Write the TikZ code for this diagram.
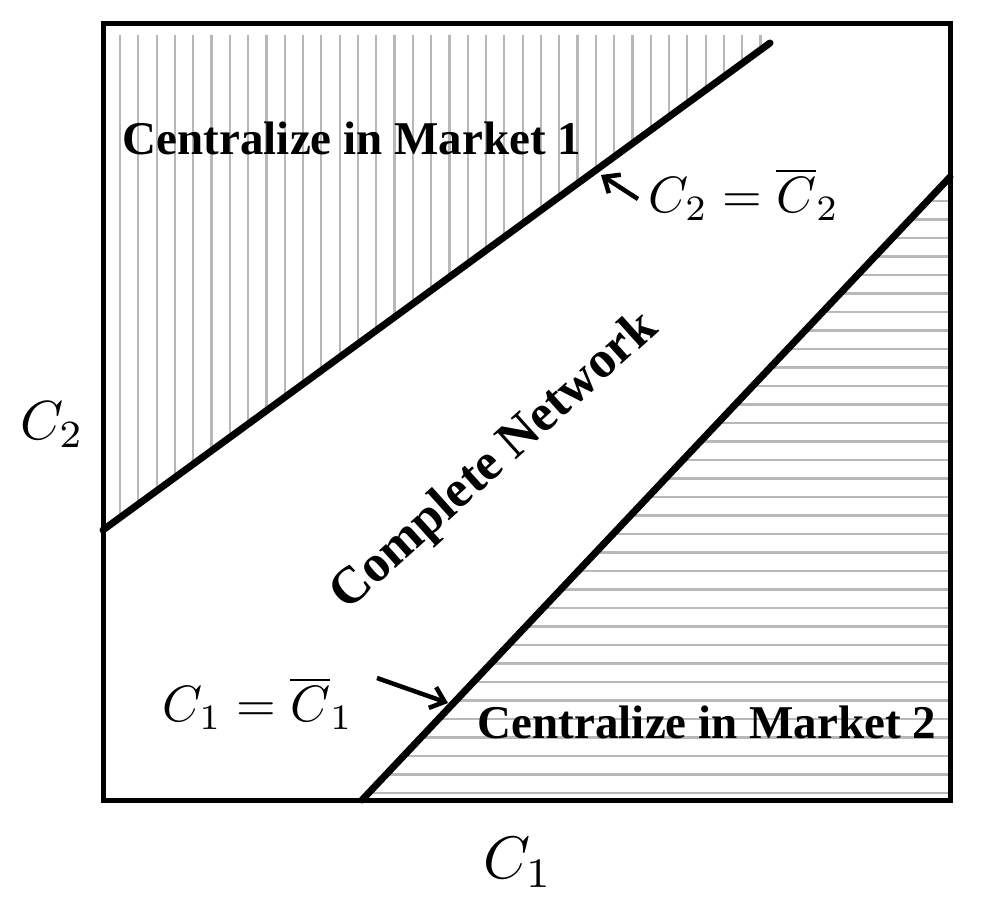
\documentclass[tikz,border=0pt]{standalone}
\usepackage{fontspec}
\setmainfont{Liberation Serif}
\usetikzlibrary{arrows.meta}
\begin{document}
\begin{tikzpicture}[x=1pt,y=-1pt,
  hatch/.style={draw=black!28,line width=2.2pt},
  frame/.style={draw=black,line width=5pt},
  bound/.style={draw=black,line width=7pt},
  ptr/.style={draw=black,line width=4.5pt,-{Straight Barb[length=13pt,width=22pt]}},
  regionlabel/.style={font=\fontsize{47}{54}\selectfont\bfseries,inner sep=0pt},
  midlabel/.style={font=\fontsize{52}{60}\selectfont\bfseries,inner sep=0pt},
  mathlabel/.style={inner sep=0pt},
  axislabel/.style={inner sep=0pt}]
\useasboundingbox (0,0) rectangle (990,909);
% hatching
\begin{scope}
\clip (103,35) -- (103,530) -- (770,43) -- (770,35) -- cycle;
\foreach \x in {120,138.3,...,770} \draw[hatch] (\x,30) -- (\x,540);
\end{scope}
\begin{scope}
\clip (362,800) -- (950,177) -- (950,800) -- cycle;
\foreach \y in {793,774.5,...,170} \draw[hatch] (340,\y) -- (950,\y);
\end{scope}
% frame and boundary lines
\coordinate (bl) at (103,800);
\coordinate (tr) at (950,24);
\draw[frame] (bl) rectangle (tr);
\coordinate (u1) at (103,530);
\coordinate (u2) at (770,43);
\coordinate (d1) at (362,800);
\coordinate (d2) at (950,177);
\draw[bound,line cap=round] (u1) -- (u2);
\draw[bound,line cap=round] (d1) -- (d2);
% labels
\node[regionlabel] (m1) at (352,138) {Centralize in Market 1};
\node[regionlabel] (m2) at (707,722) {Centralize in Market 2};
\node[midlabel,rotate=42] (cn) at (495,462) {Complete Network};
\node[mathlabel] (l2) at (744,194) {\scalebox{5.1}{$C_2=\overline{C}_2$}};
\node[mathlabel] (l1) at (258,703) {\scalebox{5.1}{$C_1=\overline{C}_1$}};
\node[axislabel] (ax2) at (52,425) {\scalebox{5.5}{$C_2$}};
\node[axislabel] (ax1) at (518,862) {\scalebox{6}{$C_1$}};
% pointers
\coordinate (a2s) at (638,199);
\coordinate (a2e) at (601,175);
\coordinate (a1s) at (377,678);
\coordinate (a1e) at (448,703);
\draw[ptr] (a2s) -- (a2e);
\draw[ptr] (a1s) -- (a1e);
\end{tikzpicture}
\end{document}
